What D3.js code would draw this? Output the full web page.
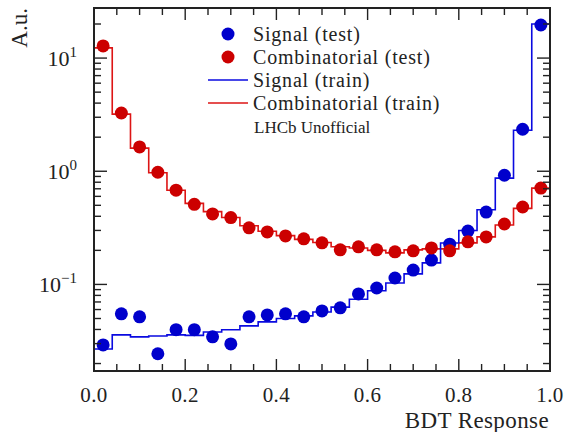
<!DOCTYPE html>
<html>
<head>
<meta charset="utf-8">
<script src="https://cdn.jsdelivr.net/npm/d3@7"></script>
<style>
  html, body { margin: 0; padding: 0; background: #fff; }
  svg { display: block; }
  text { font-family: "Liberation Serif", "Times New Roman", serif; fill: #222; }
</style>
</head>
<body>
<svg id="chart" width="564" height="432"></svg>
<script>
// ---- data ----
const binEdges = d3.range(0, 26).map(i => +(i * 0.04).toFixed(2));
const binCenters = d3.range(0, 25).map(i => +(0.02 + i * 0.04).toFixed(2));

const signalTest = [0.0292, 0.055, 0.0517, 0.0244, 0.0398, 0.0398, 0.0344, 0.0298, 0.0517, 0.0538,
  0.055, 0.0517, 0.0583, 0.0621, 0.0824, 0.093, 0.114, 0.134, 0.164, 0.227,
  0.296, 0.436, 0.922, 2.35, 19.6];
const combTest = [12.8, 3.27, 1.64, 0.98, 0.68, 0.51, 0.42, 0.39, 0.316, 0.291,
  0.268, 0.253, 0.233, 0.202, 0.215, 0.202, 0.194, 0.198, 0.210, 0.198,
  0.238, 0.263, 0.342, 0.483, 0.71];
const signalTrain = [0.0269, 0.0358, 0.0344, 0.035, 0.0358, 0.0355, 0.038, 0.0398, 0.043, 0.0467,
  0.050, 0.0527, 0.057, 0.063, 0.074, 0.088, 0.103, 0.124, 0.155, 0.232,
  0.30, 0.457, 0.87, 2.3, 20.0];
const combTrain = [12.3, 3.2, 1.6, 0.97, 0.68, 0.52, 0.44, 0.39, 0.33, 0.295,
  0.27, 0.25, 0.235, 0.215, 0.21, 0.20, 0.19, 0.202, 0.206, 0.206,
  0.233, 0.263, 0.335, 0.47, 0.71];

const xTicks = [0, 0.2, 0.4, 0.6, 0.8, 1.0];
const xMinorTicks = d3.range(0, 21).map(i => +(i * 0.05).toFixed(2));
const yTicks = [0.1, 1, 10];
const yTickLabels = ["10", "10", "10"];
const yTickExps = ["\u22121", "0", "1"];

const legendLabels = ["Signal (test)", "Combinatorial (test)", "Signal (train)", "Combinatorial (train)"];
const noteText = "LHCb Unofficial";

// ---- layout ----
const svg = d3.select("#chart");
const L = 94, R = 550, T = 8, B = 371;
const yLo = 0.01718, yHi = 27.7;

const x = d3.scaleLinear().domain([0, 1]).range([L, R]);
const y = d3.scaleLog().domain([yLo, yHi]).range([B, T]);

const blueLine = "#0a0ae0", redLine = "#dd1515";
const bluePt = "#0000cc", redPt = "#cc0000";

svg.append("defs").append("clipPath").attr("id", "clip")
  .append("rect").attr("x", L).attr("y", T).attr("width", R - L).attr("height", B - T);

// histograms
function stepPts(vals) {
  const pts = [[0, yLo]];
  vals.forEach((v, i) => pts.push([binEdges[i], v]));
  pts.push([1, vals[vals.length - 1]]);
  pts.push([1, yLo]);
  return pts;
}
const line = d3.line().x(d => x(d[0])).y(d => y(d[1])).curve(d3.curveStepAfter);
const g = svg.append("g").attr("clip-path", "url(#clip)");
g.append("path").attr("d", line(stepPts(combTrain))).attr("fill", "none")
  .attr("stroke", redLine).attr("stroke-width", 1.6);
g.append("path").attr("d", line(stepPts(signalTrain))).attr("fill", "none")
  .attr("stroke", blueLine).attr("stroke-width", 1.6);

// points
g.selectAll("circle.sig").data(signalTest).join("circle").attr("class", "sig")
  .attr("cx", (d, i) => x(binCenters[i])).attr("cy", d => y(d)).attr("r", 6.5).attr("fill", bluePt);
g.selectAll("circle.comb").data(combTest).join("circle").attr("class", "comb")
  .attr("cx", (d, i) => x(binCenters[i])).attr("cy", d => y(d)).attr("r", 6.5).attr("fill", redPt);

// ticks
const axisCol = "#222";
const tk = svg.append("g").attr("stroke", axisCol).attr("stroke-width", 1.4);
xMinorTicks.forEach(t => {
  const major = xTicks.some(m => Math.abs(m - t) < 1e-6);
  const len = major ? 12 : 7;
  tk.append("line").attr("x1", x(t)).attr("x2", x(t)).attr("y1", B).attr("y2", B - len);
  tk.append("line").attr("x1", x(t)).attr("x2", x(t)).attr("y1", T).attr("y2", T + len);
});
const yMinor = [];
for (let e = -2; e <= 1; e++) for (let m = 1; m <= 9; m++) {
  const v = m * Math.pow(10, e);
  if (v >= yLo && v <= yHi) yMinor.push({ v, major: m === 1 });
}
yMinor.forEach(d => {
  const len = d.major ? 13 : 7;
  tk.append("line").attr("x1", L).attr("x2", L + len).attr("y1", y(d.v)).attr("y2", y(d.v));
  tk.append("line").attr("x1", R).attr("x2", R - len).attr("y1", y(d.v)).attr("y2", y(d.v));
});

// frame
svg.append("rect").attr("x", L).attr("y", T).attr("width", R - L).attr("height", B - T)
  .attr("fill", "none").attr("stroke", axisCol).attr("stroke-width", 2);

// tick labels
svg.append("g").selectAll("text").data(xTicks).join("text")
  .attr("x", d => x(d)).attr("y", 402).attr("text-anchor", "middle")
  .attr("font-size", 21).attr("letter-spacing", 0.4).text(d => d.toFixed(1));

yTicks.forEach((v, i) => {
  const t = svg.append("text").attr("x", 77).attr("y", y(v) + 8)
    .attr("text-anchor", "end").attr("font-size", 22);
  t.append("tspan").text(yTickLabels[i]);
  t.append("tspan").attr("font-size", 15).attr("dy", -9).text(yTickExps[i]);
});

// axis labels
svg.append("text").attr("x", 549).attr("y", 428).attr("text-anchor", "end")
  .attr("font-size", 23).attr("letter-spacing", 0.4).text("BDT Response");
svg.append("text").attr("transform", "translate(27,8) rotate(-90)")
  .attr("text-anchor", "end").attr("font-size", 23).text("A.u.");

// legend
const lg = svg.append("g");
const rowsY = [34, 57, 80, 103];
lg.append("circle").attr("cx", 228).attr("cy", rowsY[0]).attr("r", 6.5).attr("fill", bluePt);
lg.append("circle").attr("cx", 228).attr("cy", rowsY[1]).attr("r", 6.5).attr("fill", redPt);
lg.append("line").attr("x1", 208).attr("x2", 248).attr("y1", rowsY[2]).attr("y2", rowsY[2])
  .attr("stroke", blueLine).attr("stroke-width", 1.6);
lg.append("line").attr("x1", 208).attr("x2", 248).attr("y1", rowsY[3]).attr("y2", rowsY[3])
  .attr("stroke", redLine).attr("stroke-width", 1.6);
legendLabels.forEach((s, i) => {
  lg.append("text").attr("x", 253).attr("y", rowsY[i] + 6.5).attr("font-size", 20)
    .attr("letter-spacing", 0.8).text(s);
});
lg.append("text").attr("x", 254).attr("y", 133).attr("font-size", 17).text(noteText);
</script>
</body>
</html>
